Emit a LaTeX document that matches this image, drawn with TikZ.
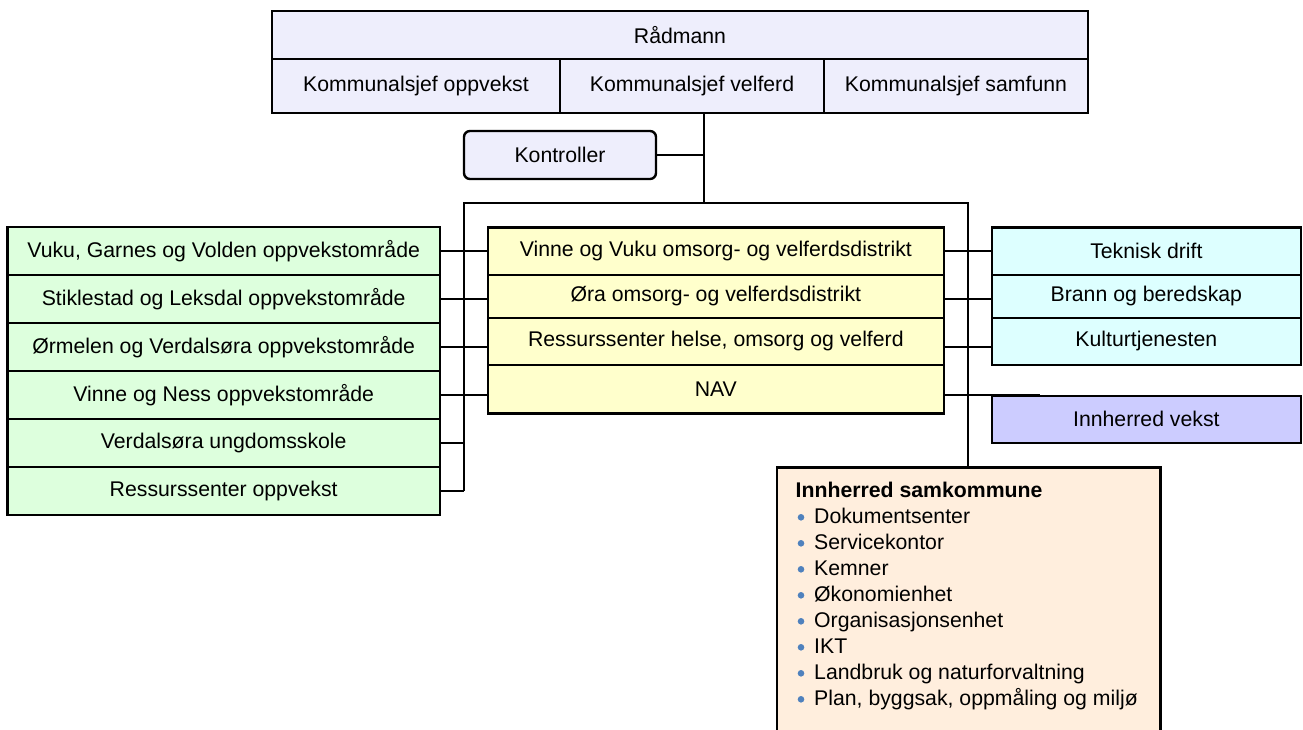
\documentclass[tikz,border=0pt]{standalone}
\usepackage{fontspec}
\setmainfont{Liberation Sans}
\usetikzlibrary{calc}

\definecolor{lederbg}{RGB}{238,238,252}
\definecolor{skolebg}{RGB}{221,255,221}
\definecolor{omsorgbg}{RGB}{255,255,204}
\definecolor{samfunnbg}{RGB}{221,255,255}
\definecolor{vekstbg}{RGB}{204,204,255}
\definecolor{sambg}{RGB}{255,238,221}
\definecolor{prikkblaa}{RGB}{79,129,189}

\tikzset{
  celle/.style={draw, line width=2.4pt, inner sep=0pt, align=center},
  ledd/.style={line width=2pt},
}

\begin{document}
\begin{tikzpicture}[x=1pt, y=-1pt, font=\fontsize{21.25}{26}\selectfont]
			\useasboundingbox (0,0) rectangle (1303,729);
			% ledelsen
			\node[celle, fill=lederbg, minimum width=816pt, minimum height=48pt] (radmann) at (680,35) {Rådmann};
			\node[celle, fill=lederbg, minimum width=288pt, minimum height=54pt] (ksopp) at (416,86) {Kommunalsjef oppvekst};
			\node[celle, fill=lederbg, minimum width=264pt, minimum height=54pt] (ksvel) at (692,86) {Kommunalsjef velferd};
			\node[celle, fill=lederbg, minimum width=264pt, minimum height=54pt] (kssam) at (956,86) {Kommunalsjef samfunn};
			\node[celle, fill=lederbg, rounded corners=6pt, minimum width=192pt, minimum height=48pt] (kontroller) at (560,155) {Kontroller};
			% oppvekst
			\foreach \navn [count=\i] in {{Vuku, Garnes og Volden oppvekstområde}, Stiklestad og Leksdal oppvekstområde, Ørmelen og Verdalsøra oppvekstområde, Vinne og Ness oppvekstområde, Verdalsøra ungdomsskole, Ressurssenter oppvekst}
				\node[celle, fill=skolebg, minimum width=432.7pt, minimum height=48pt] (skole\i) at (223.7,{203+48*\i}) {\navn};
			% omsorg og velferd
			\node[celle, fill=omsorgbg, minimum width=456.3pt, minimum height=47.7pt] (omsorg1) at (715.85,251.15) {Vinne og Vuku omsorg- og velferdsdistrikt};
			\node[celle, fill=omsorgbg, minimum width=456.3pt, minimum height=42.7pt] (omsorg2) at (715.85,296.35) {Øra omsorg- og velferdsdistrikt};
			\node[celle, fill=omsorgbg, minimum width=456.3pt, minimum height=47.3pt] (omsorg3) at (715.85,341.35) {Ressurssenter helse, omsorg og velferd};
			\node[celle, fill=omsorgbg, minimum width=456.3pt, minimum height=48.3pt] (omsorg4) at (715.85,389.15) {NAV};
			% samfunn
			\node[celle, fill=samfunnbg, minimum width=309.3pt, minimum height=47.7pt] (teknisk) at (1146.35,251.15) {Teknisk drift};
			\node[celle, fill=samfunnbg, minimum width=309.3pt, minimum height=42.7pt] (brann) at (1146.35,296.35) {Brann og beredskap};
			\node[celle, fill=samfunnbg, minimum width=309.3pt, minimum height=47.3pt] (kultur) at (1146.35,341.35) {Kulturtjenesten};
			\node[celle, fill=vekstbg, minimum width=309.3pt, minimum height=47pt] (vekst) at (1146.35,419.2) {Innherred vekst};
			% samkommunen
			\node[fill=sambg, inner sep=0pt, anchor=north west, minimum width=383pt, minimum height=263pt] (sam) at (777,467.3) {};
			\draw[line width=2.4pt] (sam.south west) -- (sam.north west) -- (sam.north east) -- (sam.south east);
			\node[anchor=base west, inner sep=0pt, font=\fontsize{21.25}{26}\selectfont\bfseries] (samtittel) at (795.5,497) {Innherred samkommune};
			\foreach \punkt [count=\i] in {Dokumentsenter, Servicekontor, Kemner, Økonomienhet, Organisasjonsenhet, IKT, Landbruk og naturforvaltning, {Plan, byggsak, oppmåling og miljø}}{
				\node[anchor=base west, inner sep=0pt] (sampunkt\i) at (814,{497+26*\i}) {\punkt};
				\fill[prikkblaa] (801,{491.3+26*\i}) circle (3.3pt);
			}
			% linjer
			\coordinate (stamme) at (704,203);
			\coordinate (busV) at (464,203);
			\coordinate (busH) at (968,203);
			\coordinate (navslutt) at (1040,395);
			\draw[ledd] (ksvel.south -| stamme) -- (stamme);
			\draw[ledd] (kontroller.east) -- (kontroller.east -| stamme);
			\draw[ledd] (busV |- skole6.east) -- (busV) -- (busH) -- (busH |- sam.north);
			\foreach \i in {1,...,6}
				\draw[ledd] (skole\i.east) -- (skole\i.east -| busV);
			\foreach \i in {1,...,4}
				\draw[ledd] (skole\i.east -| busV) -- (omsorg\i.west |- skole\i.east);
			\draw[ledd] (omsorg1.east |- skole1.east) -- (teknisk.west |- skole1.east);
			\draw[ledd] (omsorg2.east |- skole2.east) -- (brann.west |- skole2.east);
			\draw[ledd] (omsorg3.east |- skole3.east) -- (kultur.west |- skole3.east);
			\draw[ledd] (omsorg4.east |- skole4.east) -- (navslutt);
		\end{tikzpicture}
\end{document}
